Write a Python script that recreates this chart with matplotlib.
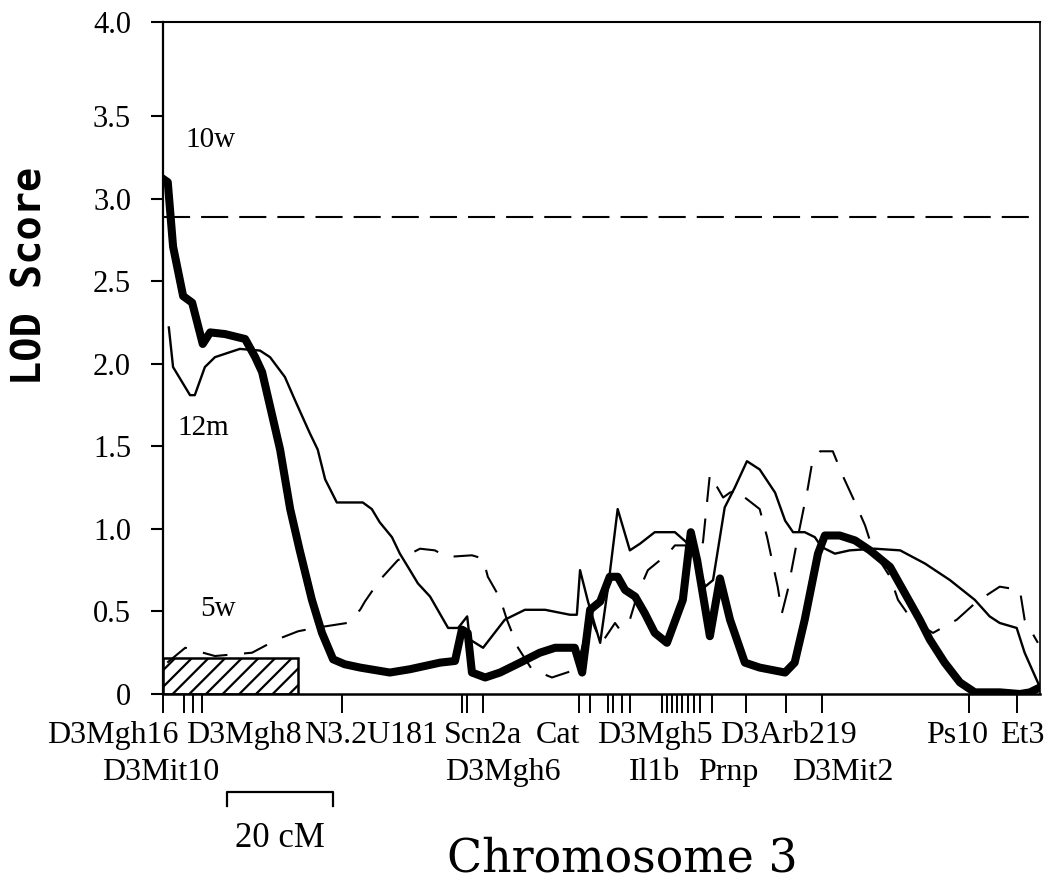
import matplotlib
matplotlib.use("Agg")
import matplotlib.pyplot as plt
from matplotlib.patches import Rectangle

# LOD curves along chromosome 3 (x in cM)
x_10w = [0, 0.9, 1.9, 3.8, 5.5, 7.5, 8.9, 11.7, 15.5, 17.4, 18.7, 22.1, 24.0, 25.8, 28.1,
         30.0, 32.1, 34.3, 37.2, 42.8, 46.6, 52.3, 55.1, 56.4, 57.5, 58.3, 60.8, 63.6, 67.4, 71.1,
         74.0, 77.7, 79.1, 80.6, 82.5, 84.3, 85.8, 87.2, 89.1, 90.9, 92.8, 95.1, 98.1, 99.6, 100.8,
         103.2, 105.1, 107.0, 109.8, 112.6, 117.4, 119.2, 121.1, 123.6, 124.9, 127.7, 130.6, 133.4,
         137.2, 140.0, 142.8, 144.7, 147.5, 150.4, 153.2, 157.9, 161.7, 163.6, 165.5]
lod_10w = [3.12, 3.10, 2.71, 2.41, 2.37, 2.12, 2.19, 2.18, 2.15, 2.04, 1.95, 1.48, 1.12, 0.87, 0.57,
           0.37, 0.21, 0.18, 0.16, 0.13, 0.15, 0.19, 0.20, 0.39, 0.37, 0.13, 0.10, 0.13, 0.19, 0.25,
           0.28, 0.28, 0.13, 0.51, 0.56, 0.71, 0.71, 0.63, 0.59, 0.49, 0.37, 0.31, 0.57, 0.98, 0.81,
           0.35, 0.70, 0.45, 0.19, 0.16, 0.13, 0.19, 0.45, 0.85, 0.96, 0.96, 0.93, 0.87,
           0.77, 0.61, 0.45, 0.33, 0.19, 0.07, 0.01, 0.01, 0.0, 0.01, 0.04]

x_12m = [1.1, 1.9, 5.1, 6.0, 7.9, 9.8, 12.6, 14.5, 18.3, 20.2, 23.0, 24.9, 27.7, 29.2, 30.6,
         32.8, 37.7, 39.4, 40.9, 43.2, 44.7, 46.6, 48.1, 50.4, 53.8, 55.7, 57.4, 57.9, 60.4, 64.5,
         68.3, 72.1, 76.8, 78.1, 78.7, 80.2, 82.5, 84.0, 85.8, 88.1, 90.0, 92.8, 96.6, 99.1, 100.8,
         102.3, 103.8, 106.0, 107.9, 110.2, 112.6, 115.5, 117.4, 118.9, 121.1, 123.0, 124.3, 126.8,
         129.6, 134.3, 139.1, 143.8, 148.5, 153.2, 156.0, 157.9, 161.1, 162.6, 165.5]
lod_12m = [2.22, 1.98, 1.81, 1.81, 1.98, 2.04, 2.07, 2.09, 2.08, 2.04, 1.92, 1.78, 1.58, 1.48, 1.30,
           1.16, 1.16, 1.12, 1.04, 0.95, 0.85, 0.75, 0.67, 0.59, 0.40, 0.40, 0.47, 0.33, 0.28, 0.45,
           0.51, 0.51, 0.48, 0.48, 0.75, 0.56, 0.31, 0.65, 1.12, 0.87, 0.91, 0.98, 0.98, 0.91, 0.81,
           0.65, 0.69, 1.13, 1.25, 1.41, 1.36, 1.22, 1.05, 0.98, 0.98, 0.95, 0.89, 0.85,
           0.87, 0.88, 0.87, 0.79, 0.69, 0.57, 0.47, 0.43, 0.40, 0.25, 0.04]

x_5w = [0.8, 4.2, 9.8, 16.8, 21.5, 25.5, 28.7, 34.7, 37.2, 38.1, 40.9, 44.3, 48.5, 51.3, 53.6,
        58.3, 60.4, 61.3, 63.6, 64.9, 67.0, 69.6, 73.4, 78.1, 80.6, 81.5, 82.8, 85.3, 86.2, 88.1,
        89.6, 91.5, 95.3, 96.6, 98.5, 100.8, 101.9, 103.2, 105.7, 107.0, 108.9, 109.8, 112.6, 114.0,
        116.0, 116.8, 117.9, 119.8, 121.7, 122.6, 124.0, 126.4, 128.3, 130.6, 132.5, 134.0, 137.2,
        138.7, 141.3, 145.3, 149.8, 153.6, 157.9, 161.7, 162.6, 165.1]
lod_5w = [0.19, 0.28, 0.23, 0.25, 0.33, 0.38, 0.40, 0.43, 0.51, 0.56, 0.69, 0.81, 0.88, 0.87, 0.83,
          0.84, 0.82, 0.71, 0.58, 0.45, 0.28, 0.15, 0.10, 0.15, 0.48, 0.40, 0.31, 0.43, 0.39, 0.45,
          0.61, 0.75, 0.85, 0.90, 0.90, 0.85, 0.92, 1.33, 1.19, 1.22, 1.24, 1.19, 1.12, 0.95,
          0.65, 0.49, 0.63, 0.95, 1.25, 1.42, 1.47, 1.47, 1.32, 1.16, 1.02, 0.87, 0.71,
          0.57, 0.45, 0.37, 0.45, 0.56, 0.65, 0.63, 0.45, 0.31]

threshold = 2.89
interval = (0, 25.5)
interval_height = 0.22

# marker positions (cM) shown as ticks under the axis
markers = [0.0, 4.0, 5.7, 7.4, 33.8, 56.4, 57.4, 60.4, 78.5, 80.6, 84.0, 84.9, 86.6, 88.1,
           94.2, 95.1, 96.0, 97.0, 97.9, 99.1, 100.2, 101.3, 103.6, 110.0, 117.5, 124.3, 152.1, 161.1]
row1_names = ["D3Mgh16", "D3Mgh8", "N3.2U181", "Scn2a", "Cat", "D3Mgh5", "D3Arb219", "Ps10", "Et3"]
row1_x = [-9.4, 15.3, 39.2, 60.4, 74.5, 92.8, 118.1, 149.8, 162.1]
row2_names = ["D3Mit10", "D3Mgh6", "Il1b", "Prnp", "D3Mit2"]
row2_x = [-0.4, 64.2, 92.8, 106.6, 128.3]

yticks = [0, 0.5, 1.0, 1.5, 2.0, 2.5, 3.0, 3.5, 4.07]
ytick_labels = ["0", "0.5", "1.0", "1.5", "2.0", "2.5", "3.0", "3.5", "4.0"]

serif = ["Liberation Serif", "DejaVu Serif"]
plt.rcParams["hatch.linewidth"] = 1.6

fig = plt.figure(figsize=(10.5, 8.81), dpi=100)
ax = fig.add_axes([0.15524, 0.21226, 0.83524, 0.76277])

ax.plot(x_12m, lod_12m, color="black", lw=1.7)
ax.plot(x_5w, lod_5w, color="black", lw=1.5, dashes=(12, 8))
ax.plot(x_10w, lod_10w, color="black", lw=5.8)
ax.axhline(threshold, color="black", lw=1.5, dashes=(13, 5.3))

ax.add_patch(Rectangle((interval[0], 0), interval[1] - interval[0], interval_height,
                       fill=False, hatch="//", edgecolor="black", lw=1.8))

ax.set_xlim(0, 165.5)
ax.set_ylim(0, 4.07)
ax.set_yticks(yticks)
ax.set_yticklabels(ytick_labels, fontfamily=serif, fontsize=22)
ax.set_xticks(markers)
ax.set_xticklabels([])
ax.tick_params(axis="y", direction="out", length=9, width=1.5, pad=14)
ax.tick_params(axis="x", direction="out", length=13.5, width=1.4)
for side, w in [("left", 1.6), ("bottom", 1.8), ("top", 1.5), ("right", 1.2)]:
    ax.spines[side].set_linewidth(w)

for name, x in zip(row1_names, row1_x):
    ax.text(x, -0.297, name, ha="center", va="baseline", fontfamily=serif, fontsize=23, clip_on=False)
for name, x in zip(row2_names, row2_x):
    ax.text(x, -0.521, name, ha="center", va="baseline", fontfamily=serif, fontsize=23, clip_on=False)

ax.text(4.2, 3.31, "10w", ha="left", va="baseline", fontfamily=serif, fontsize=21)
ax.text(2.8, 1.57, "12m", ha="left", va="baseline", fontfamily=serif, fontsize=21)
ax.text(7.0, 0.47, "5w", ha="left", va="baseline", fontfamily=serif, fontsize=21)

# 20 cM scale bar
ax.plot([12.1, 12.1, 32.1, 32.1], [-0.679, -0.594, -0.594, -0.679], color="black", lw=1.6, clip_on=False)
ax.text(22.1, -0.927, "20 cM", ha="center", va="baseline", fontfamily=serif, fontsize=25, clip_on=False)

ax.text(86.6, -1.073, "Chromosome 3", ha="center", va="baseline", fontfamily="DejaVu Serif",
        fontsize=33, clip_on=False)
ax.text(-25.1, 2.53, "LOD Score", rotation=90, ha="center", va="center",
        fontfamily="DejaVu Sans Mono", fontweight="bold", fontsize=29, clip_on=False)

fig.savefig("out.png", dpi=100)
